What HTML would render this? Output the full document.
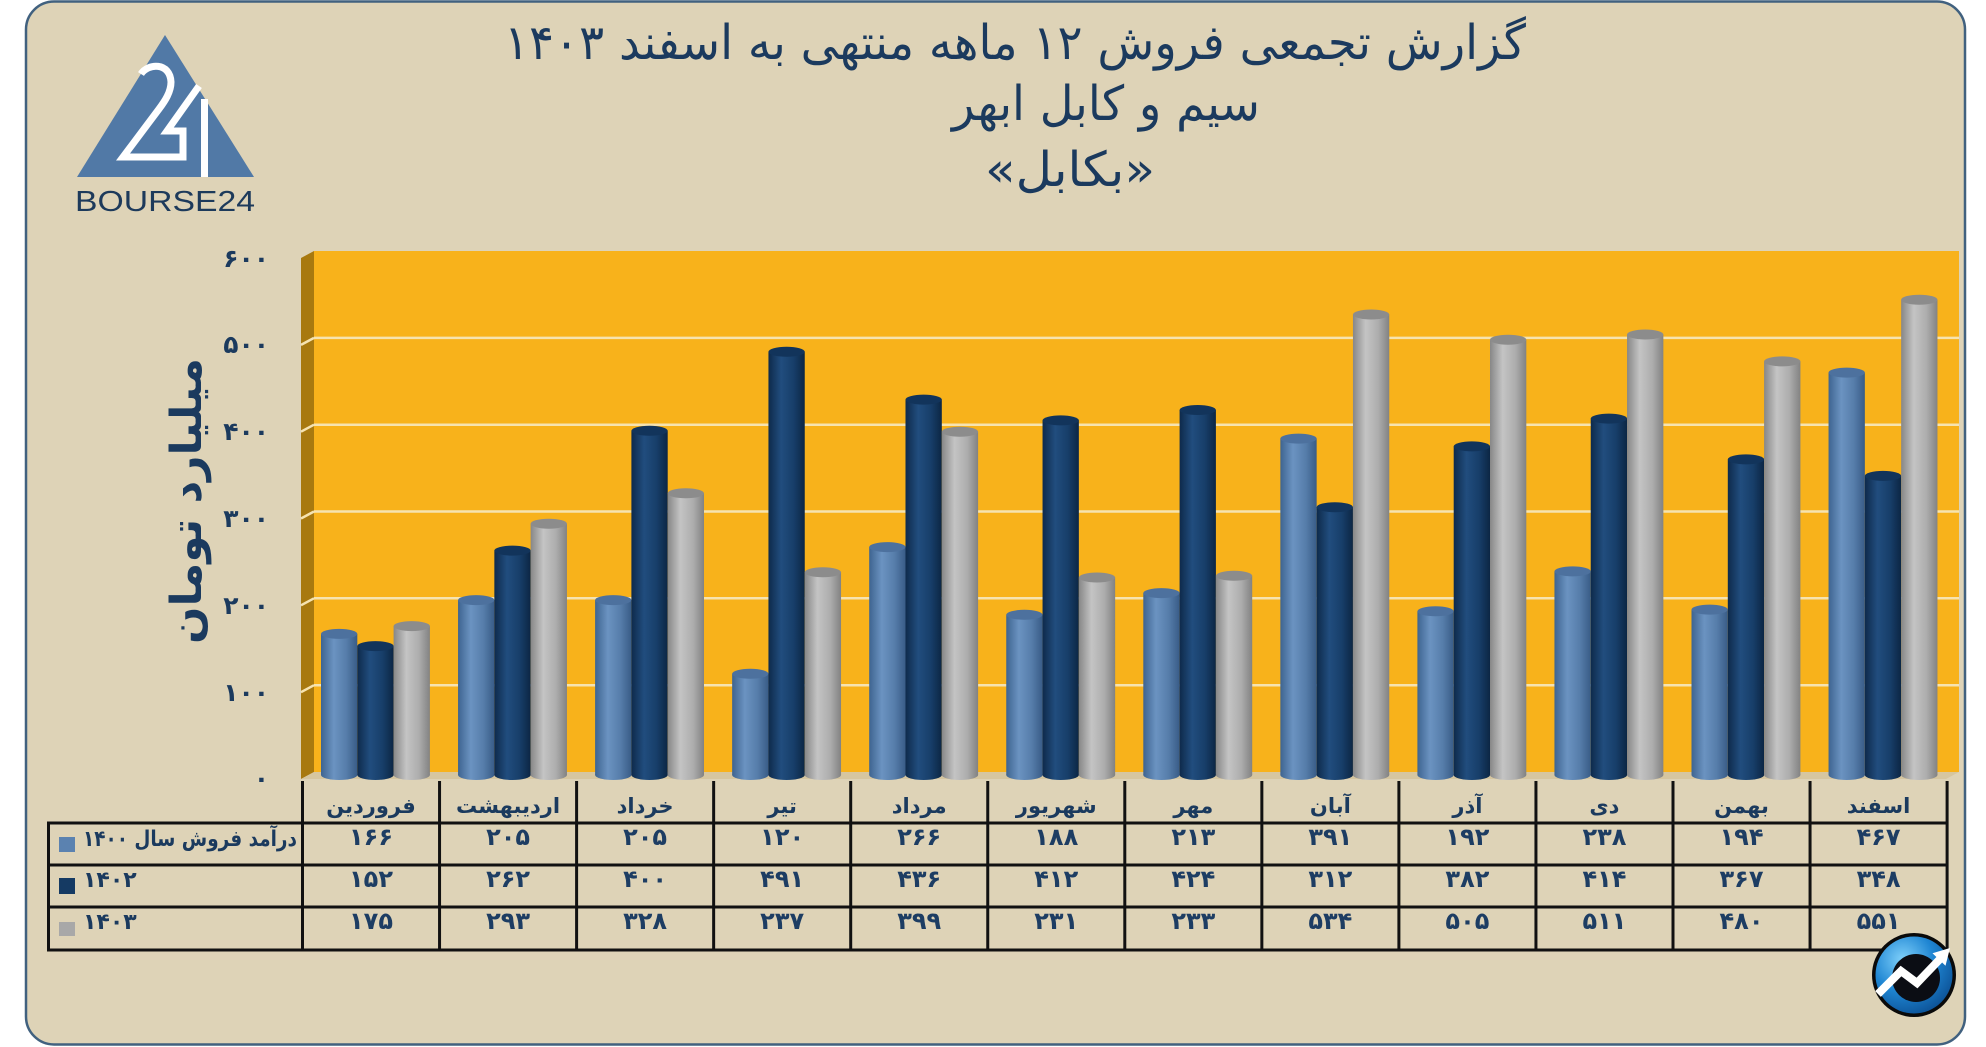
<!DOCTYPE html>
<html><head><meta charset="utf-8">
<style>
html,body{margin:0;padding:0;background:#fff;width:1986px;height:1047px;overflow:hidden}
svg{display:block}
.fa{font-family:"DejaVu Sans","Liberation Sans",sans-serif;}
</style></head>
<body>
<svg width="1986" height="1047" viewBox="0 0 1986 1047" xmlns="http://www.w3.org/2000/svg">
<defs>
<linearGradient id="gb" x1="0" x2="1" y1="0" y2="0">
<stop offset="0" stop-color="#3e6490"/><stop offset="0.35" stop-color="#6b93c1"/><stop offset="0.7" stop-color="#567daa"/><stop offset="1" stop-color="#395c87"/>
</linearGradient>
<linearGradient id="gn" x1="0" x2="1" y1="0" y2="0">
<stop offset="0" stop-color="#0e2a4b"/><stop offset="0.35" stop-color="#214d7e"/><stop offset="0.7" stop-color="#173e69"/><stop offset="1" stop-color="#0c2644"/>
</linearGradient>
<linearGradient id="gg" x1="0" x2="1" y1="0" y2="0">
<stop offset="0" stop-color="#878787"/><stop offset="0.35" stop-color="#c4c4c4"/><stop offset="0.7" stop-color="#adadad"/><stop offset="1" stop-color="#828282"/>
</linearGradient>
<radialGradient id="ib" cx="0.35" cy="0.3" r="0.8">
<stop offset="0" stop-color="#7fd0fa"/><stop offset="0.5" stop-color="#1f86d3"/><stop offset="1" stop-color="#0a4c90"/>
</radialGradient>
</defs>

<!-- frame -->
<rect x="26" y="1.5" width="1939" height="1043" rx="28" fill="#ded3b7" stroke="#41617f" stroke-width="2.5"/>

<!-- logo -->
<polygon points="165,35 77,177 254,177" fill="#5179a6"/>
<path d="M141,74 C148,63 170,62 171,82 C171,92 165,101 159,109 L123,157 L183,157 L183,131 L167,131 L199,86" stroke="#fff" stroke-width="7" fill="none" stroke-linejoin="miter"/>
<line x1="204.5" y1="99" x2="204.5" y2="177" stroke="#fff" stroke-width="7"/>
<text x="75" y="211" font-family="Liberation Sans, sans-serif" font-size="29" fill="#1d3a5b" textLength="180" lengthAdjust="spacingAndGlyphs">BOURSE24</text>

<!-- title -->
<g class="fa" fill="#1b3a5e" font-size="48" text-anchor="middle" direction="rtl">
<text x="1015" y="59" textLength="1022" lengthAdjust="spacingAndGlyphs">گزارش تجمعی فروش ۱۲ ماهه منتهی به اسفند ۱۴۰۳</text>
<text x="1106" y="120" textLength="308" lengthAdjust="spacingAndGlyphs">سیم و کابل ابهر</text>
<text x="1070" y="186" textLength="170" lengthAdjust="spacingAndGlyphs">«بکابل»</text>
</g>

<!-- plot walls -->
<rect x="314" y="251" width="1645" height="521" fill="#f8b21b"/>
<polygon points="301,258 314,251 314,772 301,779" fill="#a8790f"/>
<polygon points="314,772 1959,772 1946,779 301,779" fill="#d6c6a0"/>
<g stroke="#f6e3b0" stroke-width="2.5">
<line x1="314" y1="685.2" x2="1959" y2="685.2"/><line x1="301" y1="692.2" x2="314" y2="685.2"/>
<line x1="314" y1="598.3" x2="1959" y2="598.3"/><line x1="301" y1="605.3" x2="314" y2="598.3"/>
<line x1="314" y1="511.5" x2="1959" y2="511.5"/><line x1="301" y1="518.5" x2="314" y2="511.5"/>
<line x1="314" y1="424.7" x2="1959" y2="424.7"/><line x1="301" y1="431.7" x2="314" y2="424.7"/>
<line x1="314" y1="337.9" x2="1959" y2="337.9"/><line x1="301" y1="344.9" x2="314" y2="337.9"/>
</g>

<!-- bars: 1400 (light blue) -->
<g fill="url(#gb)">
<rect x="321" y="633.9" width="36.3" height="141.1"/><ellipse cx="339.15" cy="775" rx="18.15" ry="5"/>
<rect x="458.05" y="600.1" width="36.3" height="174.9"/><ellipse cx="476.2" cy="775" rx="18.15" ry="5"/>
<rect x="595.1" y="600.1" width="36.3" height="174.9"/><ellipse cx="613.25" cy="775" rx="18.15" ry="5"/>
<rect x="732.15" y="673.8" width="36.3" height="101.2"/><ellipse cx="750.3" cy="775" rx="18.15" ry="5"/>
<rect x="869.2" y="547.1" width="36.3" height="227.9"/><ellipse cx="887.35" cy="775" rx="18.15" ry="5"/>
<rect x="1006.25" y="614.8" width="36.3" height="160.2"/><ellipse cx="1024.4" cy="775" rx="18.15" ry="5"/>
<rect x="1143.3" y="593.1" width="36.3" height="181.9"/><ellipse cx="1161.45" cy="775" rx="18.15" ry="5"/>
<rect x="1280.35" y="438.6" width="36.3" height="336.4"/><ellipse cx="1298.5" cy="775" rx="18.15" ry="5"/>
<rect x="1417.4" y="611.3" width="36.3" height="163.7"/><ellipse cx="1435.55" cy="775" rx="18.15" ry="5"/>
<rect x="1554.45" y="571.4" width="36.3" height="203.6"/><ellipse cx="1572.6" cy="775" rx="18.15" ry="5"/>
<rect x="1691.5" y="609.6" width="36.3" height="165.4"/><ellipse cx="1709.65" cy="775" rx="18.15" ry="5"/>
<rect x="1828.55" y="372.6" width="36.3" height="402.4"/><ellipse cx="1846.7" cy="775" rx="18.15" ry="5"/>
</g>
<g fill="#4d719e">
<ellipse cx="339.15" cy="633.9" rx="18.15" ry="5"/><ellipse cx="476.2" cy="600.1" rx="18.15" ry="5"/><ellipse cx="613.25" cy="600.1" rx="18.15" ry="5"/><ellipse cx="750.3" cy="673.8" rx="18.15" ry="5"/><ellipse cx="887.35" cy="547.1" rx="18.15" ry="5"/><ellipse cx="1024.4" cy="614.8" rx="18.15" ry="5"/><ellipse cx="1161.45" cy="593.1" rx="18.15" ry="5"/><ellipse cx="1298.5" cy="438.6" rx="18.15" ry="5"/><ellipse cx="1435.55" cy="611.3" rx="18.15" ry="5"/><ellipse cx="1572.6" cy="571.4" rx="18.15" ry="5"/><ellipse cx="1709.65" cy="609.6" rx="18.15" ry="5"/><ellipse cx="1846.7" cy="372.6" rx="18.15" ry="5"/>
</g>

<!-- bars: 1402 (navy) -->
<g fill="url(#gn)">
<rect x="357.3" y="646.1" width="36.3" height="128.9"/><ellipse cx="375.45" cy="775" rx="18.15" ry="5"/>
<rect x="494.35" y="550.6" width="36.3" height="224.4"/><ellipse cx="512.5" cy="775" rx="18.15" ry="5"/>
<rect x="631.4" y="430.8" width="36.3" height="344.2"/><ellipse cx="649.55" cy="775" rx="18.15" ry="5"/>
<rect x="768.45" y="351.8" width="36.3" height="423.2"/><ellipse cx="786.6" cy="775" rx="18.15" ry="5"/>
<rect x="905.5" y="399.6" width="36.3" height="375.4"/><ellipse cx="923.65" cy="775" rx="18.15" ry="5"/>
<rect x="1042.55" y="420.4" width="36.3" height="354.6"/><ellipse cx="1060.7" cy="775" rx="18.15" ry="5"/>
<rect x="1179.6" y="410" width="36.3" height="365"/><ellipse cx="1197.75" cy="775" rx="18.15" ry="5"/>
<rect x="1316.65" y="507.2" width="36.3" height="267.8"/><ellipse cx="1334.8" cy="775" rx="18.15" ry="5"/>
<rect x="1453.7" y="446.4" width="36.3" height="328.6"/><ellipse cx="1471.85" cy="775" rx="18.15" ry="5"/>
<rect x="1590.75" y="418.6" width="36.3" height="356.4"/><ellipse cx="1608.9" cy="775" rx="18.15" ry="5"/>
<rect x="1727.8" y="459.4" width="36.3" height="315.6"/><ellipse cx="1745.95" cy="775" rx="18.15" ry="5"/>
<rect x="1864.85" y="475.9" width="36.3" height="299.1"/><ellipse cx="1883" cy="775" rx="18.15" ry="5"/>
</g>
<g fill="#12345b">
<ellipse cx="375.45" cy="646.1" rx="18.15" ry="5"/><ellipse cx="512.5" cy="550.6" rx="18.15" ry="5"/><ellipse cx="649.55" cy="430.8" rx="18.15" ry="5"/><ellipse cx="786.6" cy="351.8" rx="18.15" ry="5"/><ellipse cx="923.65" cy="399.6" rx="18.15" ry="5"/><ellipse cx="1060.7" cy="420.4" rx="18.15" ry="5"/><ellipse cx="1197.75" cy="410" rx="18.15" ry="5"/><ellipse cx="1334.8" cy="507.2" rx="18.15" ry="5"/><ellipse cx="1471.85" cy="446.4" rx="18.15" ry="5"/><ellipse cx="1608.9" cy="418.6" rx="18.15" ry="5"/><ellipse cx="1745.95" cy="459.4" rx="18.15" ry="5"/><ellipse cx="1883" cy="475.9" rx="18.15" ry="5"/>
</g>

<!-- bars: 1403 (gray) -->
<g fill="url(#gg)">
<rect x="393.6" y="626.1" width="36.3" height="148.9"/><ellipse cx="411.75" cy="775" rx="18.15" ry="5"/>
<rect x="530.65" y="523.7" width="36.3" height="251.3"/><ellipse cx="548.8" cy="775" rx="18.15" ry="5"/>
<rect x="667.7" y="493.3" width="36.3" height="281.7"/><ellipse cx="685.85" cy="775" rx="18.15" ry="5"/>
<rect x="804.75" y="572.3" width="36.3" height="202.7"/><ellipse cx="822.9" cy="775" rx="18.15" ry="5"/>
<rect x="941.8" y="431.7" width="36.3" height="343.3"/><ellipse cx="959.95" cy="775" rx="18.15" ry="5"/>
<rect x="1078.85" y="577.5" width="36.3" height="197.5"/><ellipse cx="1097" cy="775" rx="18.15" ry="5"/>
<rect x="1215.9" y="575.8" width="36.3" height="199.2"/><ellipse cx="1234.05" cy="775" rx="18.15" ry="5"/>
<rect x="1352.95" y="314.5" width="36.3" height="460.5"/><ellipse cx="1371.1" cy="775" rx="18.15" ry="5"/>
<rect x="1490" y="339.7" width="36.3" height="435.3"/><ellipse cx="1508.15" cy="775" rx="18.15" ry="5"/>
<rect x="1627.05" y="334.5" width="36.3" height="440.5"/><ellipse cx="1645.2" cy="775" rx="18.15" ry="5"/>
<rect x="1764.1" y="361.4" width="36.3" height="413.6"/><ellipse cx="1782.25" cy="775" rx="18.15" ry="5"/>
<rect x="1901.15" y="299.7" width="36.3" height="475.3"/><ellipse cx="1919.3" cy="775" rx="18.15" ry="5"/>
</g>
<g fill="#8c8c8c">
<ellipse cx="411.75" cy="626.1" rx="18.15" ry="5"/><ellipse cx="548.8" cy="523.7" rx="18.15" ry="5"/><ellipse cx="685.85" cy="493.3" rx="18.15" ry="5"/><ellipse cx="822.9" cy="572.3" rx="18.15" ry="5"/><ellipse cx="959.95" cy="431.7" rx="18.15" ry="5"/><ellipse cx="1097" cy="577.5" rx="18.15" ry="5"/><ellipse cx="1234.05" cy="575.8" rx="18.15" ry="5"/><ellipse cx="1371.1" cy="314.5" rx="18.15" ry="5"/><ellipse cx="1508.15" cy="339.7" rx="18.15" ry="5"/><ellipse cx="1645.2" cy="334.5" rx="18.15" ry="5"/><ellipse cx="1782.25" cy="361.4" rx="18.15" ry="5"/><ellipse cx="1919.3" cy="299.7" rx="18.15" ry="5"/>
</g>

<!-- y axis labels -->
<g class="fa" fill="#1b3a5e" font-size="25" font-weight="bold" text-anchor="end">
<text x="269" y="267">۶۰۰</text>
<text x="269" y="353">۵۰۰</text>
<text x="269" y="440">۴۰۰</text>
<text x="269" y="527">۳۰۰</text>
<text x="269" y="614">۲۰۰</text>
<text x="269" y="701">۱۰۰</text>
<text x="269" y="787">۰</text>
</g>
<text class="fa" transform="translate(201,501) rotate(-90)" x="0" y="0" text-anchor="middle" direction="rtl" font-size="43" font-weight="bold" fill="#1b3a5e" textLength="286" lengthAdjust="spacingAndGlyphs">میلیارد تومان</text>

<!-- table lines -->
<g stroke="#111" stroke-width="3">
<line x1="302.5" y1="781" x2="302.5" y2="951"/>
<line x1="439.55" y1="781" x2="439.55" y2="951"/>
<line x1="576.6" y1="781" x2="576.6" y2="951"/>
<line x1="713.65" y1="781" x2="713.65" y2="951"/>
<line x1="850.7" y1="781" x2="850.7" y2="951"/>
<line x1="987.75" y1="781" x2="987.75" y2="951"/>
<line x1="1124.8" y1="781" x2="1124.8" y2="951"/>
<line x1="1261.85" y1="781" x2="1261.85" y2="951"/>
<line x1="1398.9" y1="781" x2="1398.9" y2="951"/>
<line x1="1535.95" y1="781" x2="1535.95" y2="951"/>
<line x1="1673" y1="781" x2="1673" y2="951"/>
<line x1="1810.05" y1="781" x2="1810.05" y2="951"/>
<line x1="1947.1" y1="781" x2="1947.1" y2="951"/>
<line x1="48.5" y1="822" x2="48.5" y2="951"/>
<line x1="47" y1="823" x2="1948.5" y2="823"/>
<line x1="47" y1="865" x2="1948.5" y2="865"/>
<line x1="47" y1="907" x2="1948.5" y2="907"/>
<line x1="47" y1="950" x2="1948.5" y2="950"/>
</g>

<!-- month headers -->
<g class="fa" fill="#1b3a5e" font-size="21" font-weight="bold" text-anchor="middle" direction="rtl">
<text x="371" y="813">فروردین</text>
<text x="508.05" y="813">اردیبهشت</text>
<text x="645.1" y="813">خرداد</text>
<text x="782.15" y="813">تیر</text>
<text x="919.2" y="813">مرداد</text>
<text x="1056.25" y="813">شهریور</text>
<text x="1193.3" y="813">مهر</text>
<text x="1330.35" y="813">آبان</text>
<text x="1467.4" y="813">آذر</text>
<text x="1604.45" y="813">دی</text>
<text x="1741.5" y="813">بهمن</text>
<text x="1878.55" y="813">اسفند</text>
</g>

<!-- legend -->
<rect x="59" y="837" width="16" height="15" fill="#5b82b0"/>
<rect x="59" y="878" width="16" height="16" fill="#153a63"/>
<rect x="59" y="922" width="16" height="14" fill="#a8a8a8"/>
<g class="fa" fill="#1b3a5e" font-size="22" font-weight="bold">
<text x="190" y="846" text-anchor="middle" direction="rtl" textLength="214" lengthAdjust="spacingAndGlyphs">درآمد فروش سال ۱۴۰۰</text>
<text x="83" y="887">۱۴۰۲</text>
<text x="83" y="929">۱۴۰۳</text>
</g>

<!-- values -->
<g class="fa" fill="#1d3d63" font-size="24" font-weight="bold" text-anchor="middle">
<text x="371" y="845">۱۶۶</text><text x="508.05" y="845">۲۰۵</text><text x="645.1" y="845">۲۰۵</text><text x="782.15" y="845">۱۲۰</text><text x="919.2" y="845">۲۶۶</text><text x="1056.25" y="845">۱۸۸</text><text x="1193.3" y="845">۲۱۳</text><text x="1330.35" y="845">۳۹۱</text><text x="1467.4" y="845">۱۹۲</text><text x="1604.45" y="845">۲۳۸</text><text x="1741.5" y="845">۱۹۴</text><text x="1878.55" y="845">۴۶۷</text>
<text x="371" y="887">۱۵۲</text><text x="508.05" y="887">۲۶۲</text><text x="645.1" y="887">۴۰۰</text><text x="782.15" y="887">۴۹۱</text><text x="919.2" y="887">۴۳۶</text><text x="1056.25" y="887">۴۱۲</text><text x="1193.3" y="887">۴۲۴</text><text x="1330.35" y="887">۳۱۲</text><text x="1467.4" y="887">۳۸۲</text><text x="1604.45" y="887">۴۱۴</text><text x="1741.5" y="887">۳۶۷</text><text x="1878.55" y="887">۳۴۸</text>
<text x="371" y="929">۱۷۵</text><text x="508.05" y="929">۲۹۳</text><text x="645.1" y="929">۳۲۸</text><text x="782.15" y="929">۲۳۷</text><text x="919.2" y="929">۳۹۹</text><text x="1056.25" y="929">۲۳۱</text><text x="1193.3" y="929">۲۳۳</text><text x="1330.35" y="929">۵۳۴</text><text x="1467.4" y="929">۵۰۵</text><text x="1604.45" y="929">۵۱۱</text><text x="1741.5" y="929">۴۸۰</text><text x="1878.55" y="929">۵۵۱</text>
</g>

<!-- icon -->
<circle cx="1914" cy="975" r="42" fill="#0a0a0a"/>
<circle cx="1914" cy="975" r="38.5" fill="url(#ib)"/>
<circle cx="1916" cy="978" r="24" fill="#0b0d14"/>
<polyline points="1878,994 1901,971 1917,983 1940,959" stroke="#fff" stroke-width="8" fill="none" stroke-linejoin="miter"/>
<polygon points="1950,948 1932.5,953.3 1945.5,965.7" fill="#fff"/>
</svg>
</body></html>
